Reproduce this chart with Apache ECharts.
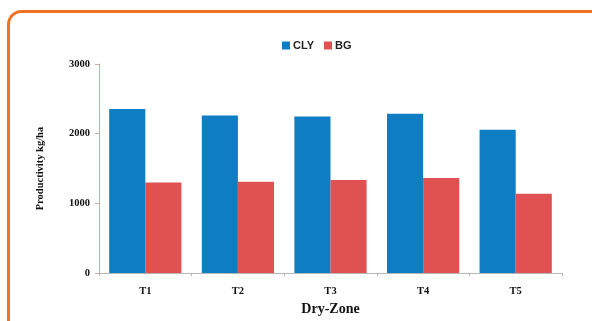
<!DOCTYPE html>
<html>
<head>
<meta charset="utf-8">
<script src="https://cdn.jsdelivr.net/npm/echarts@6/dist/echarts.min.js"></script>
<style>
  html, body { margin: 0; padding: 0; background: #ffffff; }
  #chart { width: 592px; height: 321px; }
</style>
</head>
<body>
<div id="chart"></div>
<script>
// Productivity (kg/ha) per treatment in the dry zone
const categories = ['T1', 'T2', 'T3', 'T4', 'T5'];
const clyValues = [2355, 2260, 2248, 2285, 2055];
const bgValues = [1300, 1310, 1335, 1365, 1140];
const yTicks = [0, 1000, 2000, 3000];

const chart = echarts.init(document.getElementById('chart'), null, { renderer: 'canvas' });

const serifBold = { fontFamily: 'Liberation Serif', fontWeight: 'bold', color: '#111' };

chart.setOption({
  backgroundColor: '#ffffff',
  animation: false,
  graphic: [{
    type: 'rect',
    shape: { x: 8.5, y: 11.5, width: 600, height: 340, r: 13 },
    style: { fill: 'none', stroke: '#F07325', lineWidth: 3 },
    z: 100
  }],
  legend: {
    data: ['CLY', 'BG'],
    top: 35,
    left: 277,
    itemWidth: 8,
    itemHeight: 8,
    itemGap: 10,
    icon: 'rect',
    textStyle: { fontFamily: 'Liberation Sans', fontWeight: 'bold', fontSize: 11, color: '#222', padding: [0, 0, 0, -2] }
  },
  grid: { left: 99, right: 30, top: 64, bottom: 43 },
  xAxis: {
    type: 'category',
    data: categories,
    name: 'Dry-Zone',
    nameLocation: 'middle',
    nameGap: 27,
    nameTextStyle: Object.assign({ fontSize: 14 }, serifBold),
    axisLine: { lineStyle: { color: '#b8b8b8', width: 1 } },
    axisTick: { show: true, length: 3, lineStyle: { color: '#b8b8b8' } },
    axisLabel: Object.assign({ fontSize: 10.5, margin: 13 }, serifBold)
  },
  yAxis: {
    type: 'value',
    min: yTicks[0],
    max: yTicks[yTicks.length - 1],
    interval: 1000,
    name: 'Productivity kg/ha',
    nameLocation: 'middle',
    nameGap: 53,
    nameTextStyle: Object.assign({ fontSize: 10.5 }, serifBold),
    splitLine: { show: false },
    axisLine: { show: true, lineStyle: { color: '#c9a9a4', width: 1 } },
    axisTick: { show: true, length: 4, lineStyle: { color: '#c9a9a4' } },
    axisLabel: Object.assign({ fontSize: 10.5, margin: 9, formatter: v => String(v) }, serifBold)
  },
  series: [
    {
      name: 'CLY',
      type: 'bar',
      data: clyValues,
      barGap: '0%',
      barCategoryGap: '22%',
      itemStyle: { color: '#0E7DC3' }
    },
    {
      name: 'BG',
      type: 'bar',
      data: bgValues,
      barGap: '0%',
      barCategoryGap: '22%',
      itemStyle: { color: '#E05252' }
    }
  ]
});
</script>
</body>
</html>
